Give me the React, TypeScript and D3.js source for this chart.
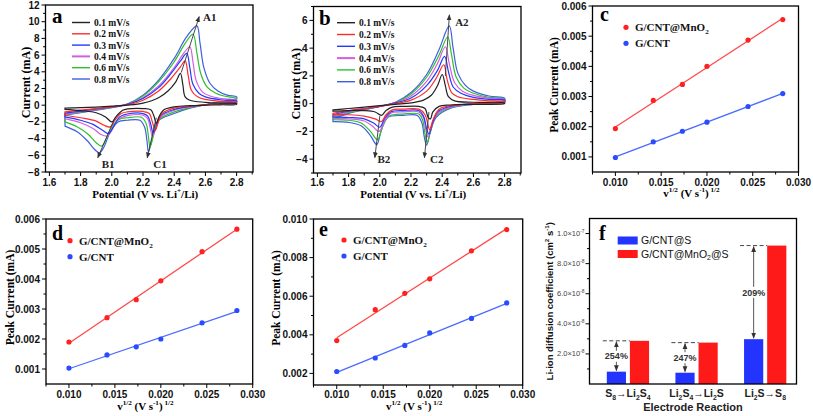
import React from 'react';
import * as d3 from 'd3';

type P = [number, number];
type Seg = [string, number];

// ---------- Panel a / b : cyclic voltammograms ----------
const scanLabels = ['0.1 mV/s', '0.2 mV/s', '0.3 mV/s', '0.4 mV/s', '0.6 mV/s', '0.8 mV/s'];
const scanColors = ['#222222', '#ff2b2b', '#1f3cff', '#d35fe0', '#2fbf2f', '#3d5fe0'];

const cvXTicks = [1.6, 1.8, 2.0, 2.2, 2.4, 2.6, 2.8];
const cvXMinor = [1.7, 1.9, 2.1, 2.3, 2.5, 2.7, 2.9];
const cvAYTicks = [-8, -6, -4, -2, 0, 2, 4, 6, 8, 10, 12];
const cvAYMinor = [-7, -5, -3, -1, 1, 3, 5, 7, 9, 11];
const cvBYTicks = [-4, -2, 0, 2, 4, 6];
const cvBYMinor = [-5, -3, -1, 1, 3, 5, 7];

const cvAUpper: P[][] = [
  [[1.7,-0.35],[1.8,-0.3],[1.9,-0.22],[2.0,-0.12],[2.1,0.0],[2.2,0.25],[2.3,0.9],[2.36,1.7],[2.41,2.8],[2.44,3.8],[2.455,2.5],[2.47,1.0],[2.5,0.6],[2.6,0.35],[2.7,0.25],[2.8,0.2]],
  [[1.7,-0.8],[1.8,-0.6],[1.9,-0.4],[2.0,-0.2],[2.1,0.05],[2.2,0.6],[2.3,1.7],[2.38,3.2],[2.44,4.6],[2.47,5.3],[2.49,3.5],[2.51,1.8],[2.55,1.0],[2.6,0.7],[2.7,0.45],[2.8,0.35]],
  [[1.7,-0.95],[1.8,-0.7],[1.9,-0.45],[2.0,-0.2],[2.1,0.1],[2.2,0.8],[2.3,2.1],[2.38,3.8],[2.44,5.3],[2.48,6.2],[2.5,4.5],[2.52,2.5],[2.56,1.4],[2.6,1.0],[2.7,0.65],[2.8,0.5]],
  [[1.7,-1.05],[1.8,-0.8],[1.9,-0.5],[2.0,-0.22],[2.1,0.12],[2.2,0.9],[2.3,2.3],[2.4,4.5],[2.46,6.2],[2.5,7.0],[2.52,5.2],[2.54,3.0],[2.58,1.6],[2.63,1.1],[2.7,0.8],[2.8,0.6]],
  [[1.7,-1.1],[1.8,-0.85],[1.9,-0.55],[2.0,-0.25],[2.1,0.15],[2.2,1.1],[2.3,2.8],[2.4,5.2],[2.47,7.4],[2.52,8.5],[2.545,6.3],[2.57,3.8],[2.61,2.2],[2.66,1.5],[2.72,1.1],[2.8,0.8]],
  [[1.7,-1.2],[1.8,-0.9],[1.9,-0.6],[2.0,-0.3],[2.1,0.15],[2.2,1.2],[2.3,3.0],[2.4,5.6],[2.48,8.2],[2.545,9.5],[2.565,7.5],[2.59,4.5],[2.63,2.6],[2.68,1.7],[2.74,1.2],[2.8,1.0]],
];
const cvALower: P[][] = [
  [[1.7,-0.5],[1.8,-0.65],[1.9,-0.9],[1.96,-1.4],[2.0,-2.0],[2.03,-1.3],[2.07,-0.6],[2.1,-0.45],[2.2,-0.4],[2.25,-0.55],[2.27,-1.3],[2.285,-2.2],[2.3,-1.5],[2.33,-0.6],[2.4,-0.2],[2.5,-0.05],[2.6,0.0],[2.7,0.05],[2.8,0.1]],
  [[1.7,-1.2],[1.8,-1.5],[1.9,-1.9],[1.95,-2.4],[1.99,-2.6],[2.02,-1.8],[2.06,-1.0],[2.1,-0.8],[2.2,-0.75],[2.24,-1.0],[2.26,-2.0],[2.278,-3.0],[2.295,-2.2],[2.32,-1.0],[2.4,-0.35],[2.5,-0.1],[2.6,0.05],[2.7,0.15],[2.8,0.25]],
  [[1.7,-1.4],[1.8,-1.8],[1.88,-2.3],[1.94,-3.0],[1.98,-3.4],[2.01,-2.6],[2.05,-1.4],[2.1,-1.05],[2.2,-1.0],[2.23,-1.3],[2.25,-2.3],[2.265,-3.3],[2.285,-2.6],[2.31,-1.3],[2.4,-0.5],[2.5,-0.15],[2.6,0.05],[2.7,0.2],[2.8,0.35]],
  [[1.7,-1.6],[1.8,-2.1],[1.88,-2.8],[1.93,-3.5],[1.97,-3.7],[2.0,-3.0],[2.04,-1.7],[2.1,-1.25],[2.2,-1.2],[2.23,-1.6],[2.245,-2.6],[2.26,-3.7],[2.28,-2.9],[2.31,-1.5],[2.4,-0.6],[2.5,-0.2],[2.6,0.05],[2.7,0.25],[2.8,0.45]],
  [[1.7,-2.0],[1.78,-2.6],[1.85,-3.5],[1.9,-4.5],[1.935,-4.9],[1.97,-3.8],[2.01,-2.3],[2.06,-1.6],[2.1,-1.5],[2.19,-1.45],[2.22,-2.2],[2.235,-3.8],[2.245,-5.0],[2.265,-3.8],[2.3,-1.8],[2.4,-0.8],[2.5,-0.3],[2.6,0.05],[2.7,0.35],[2.8,0.65]],
  [[1.7,-2.5],[1.78,-3.2],[1.84,-4.2],[1.89,-5.3],[1.92,-5.7],[1.95,-5.0],[1.99,-3.2],[2.04,-2.0],[2.1,-1.8],[2.18,-1.8],[2.21,-2.6],[2.225,-4.2],[2.235,-5.6],[2.255,-4.3],[2.29,-2.0],[2.4,-1.0],[2.5,-0.35],[2.6,0.05],[2.7,0.45],[2.8,0.8]],
];
const cvBUpper: P[][] = [
  [[1.7,-0.45],[1.8,-0.35],[1.9,-0.25],[2.0,-0.15],[2.1,-0.05],[2.2,0.05],[2.28,0.25],[2.33,0.6],[2.37,1.3],[2.40,2.1],[2.42,1.3],[2.44,0.5],[2.48,0.2],[2.6,0.1],[2.8,0.05]],
  [[1.7,-0.7],[1.8,-0.5],[1.9,-0.35],[2.0,-0.2],[2.1,0.0],[2.2,0.25],[2.3,0.9],[2.36,1.8],[2.41,2.8],[2.43,1.8],[2.46,0.8],[2.5,0.5],[2.6,0.3],[2.7,0.2],[2.8,0.15]],
  [[1.7,-0.8],[1.8,-0.55],[1.9,-0.38],[2.0,-0.2],[2.1,0.05],[2.2,0.4],[2.3,1.3],[2.37,2.4],[2.415,3.4],[2.44,2.3],[2.47,1.2],[2.52,0.75],[2.6,0.45],[2.7,0.3],[2.8,0.25]],
  [[1.7,-0.9],[1.8,-0.6],[1.9,-0.4],[2.0,-0.2],[2.1,0.08],[2.2,0.55],[2.3,1.6],[2.37,2.9],[2.42,4.1],[2.445,2.9],[2.48,1.5],[2.53,0.9],[2.6,0.6],[2.7,0.4],[2.8,0.3]],
  [[1.7,-1.0],[1.8,-0.65],[1.9,-0.42],[2.0,-0.2],[2.1,0.1],[2.2,0.7],[2.3,1.9],[2.38,3.5],[2.435,4.8],[2.46,3.5],[2.49,1.9],[2.54,1.1],[2.6,0.75],[2.7,0.45],[2.8,0.35]],
  [[1.7,-1.1],[1.8,-0.7],[1.9,-0.45],[2.0,-0.2],[2.1,0.1],[2.2,0.8],[2.3,2.1],[2.38,3.9],[2.445,5.6],[2.47,4.0],[2.5,2.2],[2.55,1.3],[2.6,0.9],[2.7,0.55],[2.8,0.4]],
];
const cvBLower: P[][] = [
  [[1.7,-0.55],[1.8,-0.5],[1.9,-0.5],[1.97,-0.6],[2.01,-0.85],[2.04,-0.5],[2.08,-0.25],[2.15,-0.2],[2.25,-0.2],[2.29,-0.35],[2.31,-1.0],[2.325,-1.1],[2.34,-0.6],[2.38,-0.2],[2.45,-0.1],[2.6,-0.05],[2.8,0.0]],
  [[1.7,-0.8],[1.8,-0.8],[1.9,-0.9],[1.97,-1.1],[2.01,-1.3],[2.04,-0.8],[2.08,-0.45],[2.15,-0.4],[2.25,-0.4],[2.29,-0.8],[2.31,-1.6],[2.32,-1.9],[2.34,-1.2],[2.38,-0.4],[2.45,-0.15],[2.6,0.0],[2.8,0.05]],
  [[1.7,-0.95],[1.8,-1.0],[1.9,-1.1],[1.96,-1.4],[2.0,-1.7],[2.03,-1.1],[2.07,-0.6],[2.15,-0.5],[2.25,-0.5],[2.28,-0.9],[2.3,-1.8],[2.315,-2.2],[2.335,-1.5],[2.37,-0.6],[2.45,-0.2],[2.6,0.0],[2.8,0.1]],
  [[1.7,-1.05],[1.8,-1.1],[1.9,-1.25],[1.95,-1.6],[1.995,-2.0],[2.03,-1.3],[2.07,-0.7],[2.15,-0.6],[2.25,-0.6],[2.28,-1.0],[2.295,-1.9],[2.31,-2.4],[2.33,-1.7],[2.37,-0.7],[2.45,-0.25],[2.6,0.0],[2.8,0.15]],
  [[1.7,-1.15],[1.8,-1.2],[1.88,-1.4],[1.94,-2.0],[1.985,-2.6],[2.02,-1.6],[2.06,-0.9],[2.15,-0.75],[2.25,-0.75],[2.275,-1.2],[2.29,-2.2],[2.305,-2.8],[2.325,-2.0],[2.36,-0.9],[2.45,-0.3],[2.6,0.0],[2.8,0.2]],
  [[1.7,-1.3],[1.8,-1.35],[1.88,-1.6],[1.94,-2.3],[1.98,-2.95],[2.01,-1.9],[2.05,-1.0],[2.15,-0.85],[2.24,-0.85],[2.27,-1.4],[2.285,-2.4],[2.30,-3.0],[2.32,-2.2],[2.36,-1.0],[2.45,-0.35],[2.6,-0.05],[2.8,0.25]],
];
const cvAArrows = [
  { from: [2.445, 3.9] as P, to: [2.56, 10.6] as P, label: 'A1', at: [2.585, 10.1] as P },
  { from: [2.02, -1.5] as P, to: [1.91, -6.3] as P, label: 'B1', at: [1.935, -7.5] as P },
  { from: [2.285, -1.5] as P, to: [2.227, -6.3] as P, label: 'C1', at: [2.266, -7.5] as P },
];
const cvBArrows = [
  { from: [2.42, 2.0] as P, to: [2.446, 6.4] as P, label: 'A2', at: [2.483, 5.6] as P },
  { from: [2.0, -0.9] as P, to: [1.968, -3.9] as P, label: 'B2', at: [1.985, -4.25] as P },
  { from: [2.315, -0.6] as P, to: [2.286, -3.9] as P, label: 'C2', at: [2.322, -4.25] as P },
];

// ---------- Panels c, d, e : peak current vs v^1/2 ----------
const sqrtRate = [0.01, 0.01414, 0.01732, 0.02, 0.02449, 0.02828];
const cRed = [0.00194, 0.00287, 0.0034, 0.0040, 0.00487, 0.00555];
const cBlue = [0.00098, 0.0015, 0.00185, 0.00215, 0.00267, 0.0031];
const dRed = [0.0019, 0.00271, 0.00331, 0.00394, 0.00491, 0.00566];
const dBlue = [0.00103, 0.00147, 0.00174, 0.002, 0.00254, 0.00295];
const eRed = [0.0037, 0.0053, 0.00615, 0.0069, 0.00835, 0.00945];
const eBlue = [0.0021, 0.0028, 0.00345, 0.0041, 0.00485, 0.00565];
const rateXTicks = [0.010, 0.015, 0.020, 0.025, 0.030];
const rateXMinor = [0.0075, 0.0125, 0.0175, 0.0225, 0.0275];
const cdYTicks = [0.001, 0.002, 0.003, 0.004, 0.005, 0.006];
const cdYMinor = [0.0015, 0.0025, 0.0035, 0.0045, 0.0055];
const eYTicks = [0.002, 0.004, 0.006, 0.008, 0.010];
const eYMinor = [0.003, 0.005, 0.007, 0.009];
const seriesNames: Seg[][] = [[['G/CNT@MnO', 0], ['2', 1]], [['G/CNT', 0]]];

// ---------- Panel f : diffusion coefficients ----------
const reactions = ['S8-Li2S4', 'Li2S4-Li2S', 'Li2S-S8'];
const reactionLabels: Seg[][] = [
  [['S', 0], ['8', 1], ['\u2192Li', 0], ['2', 1], ['S', 0], ['4', 1]],
  [['Li', 0], ['2', 1], ['S', 0], ['4', 1], ['\u2192Li', 0], ['2', 1], ['S', 0]],
  [['Li', 0], ['2', 1], ['S\u2192S', 0], ['8', 1]],
];
const fBlue = [0.82e-8, 0.75e-8, 2.98e-8];
const fRed = [2.87e-8, 2.75e-8, 9.2e-8];
const fPct = ['254%', '247%', '209%'];
const fYTicks = [2e-8, 4e-8, 6e-8, 8e-8, 1e-7];
const fYMinor = [1e-8, 3e-8, 5e-8, 7e-8, 9e-8];
const fSeries: Seg[][] = [[['G/CNT@S', 0]], [['G/CNT@MnO', 0], ['2', 1], ['@S', 0]]];

const serif = "'Liberation Serif','Times New Roman',serif";
const sans = "'Liberation Sans',Arial,sans-serif";

function Rich({ segs, fontSize, ...rest }: any) {
  let cur = 0;
  return (
    <text fontSize={fontSize} {...rest}>
      {segs.map(([s, k]: Seg, i: number) => {
        const target = k === 1 ? fontSize * 0.28 : k === -1 ? -fontSize * 0.42 : 0;
        const dy = target - cur;
        cur = target;
        return (
          <tspan key={i} dy={dy} fontSize={k ? fontSize * 0.65 : fontSize}>
            {s}
          </tspan>
        );
      })}
    </text>
  );
}

function Axes({ x, y, xTicks, xMinor, yTicks, yMinor, xFmt, yFmt, xLabelY, fs = 10 }: any) {
  const [x0, x1] = x.range();
  const [yb, yt] = y.range();
  return (
    <g>
      <rect x={x0} y={yt} width={x1 - x0} height={yb - yt} fill="none" stroke="#000" strokeWidth={1.3} />
      {xTicks.map((t: number) => (
        <line key={'xt' + t} x1={x(t)} x2={x(t)} y1={yb} y2={yb + 4} stroke="#000" strokeWidth={1} />
      ))}
      {xMinor.map((t: number) => (
        <line key={'xm' + t} x1={x(t)} x2={x(t)} y1={yb} y2={yb + 2.5} stroke="#000" strokeWidth={1} />
      ))}
      {xTicks.map((t: number) => (
        <text key={'xl' + t} x={x(t)} y={xLabelY} textAnchor="middle" fontFamily={sans} fontWeight="bold" fontSize={fs} fill="#111">
          {xFmt(t)}
        </text>
      ))}
      {yTicks.map((t: number) => (
        <line key={'yt' + t} x1={x0 - 4} x2={x0} y1={y(t)} y2={y(t)} stroke="#000" strokeWidth={1} />
      ))}
      {yMinor.map((t: number) => (
        <line key={'ym' + t} x1={x0 - 2.5} x2={x0} y1={y(t)} y2={y(t)} stroke="#000" strokeWidth={1} />
      ))}
      {yTicks.map((t: number) => (
        <text key={'yl' + t} x={x0 - 6} y={y(t)} dy="0.35em" textAnchor="end" fontFamily={sans} fontWeight="bold" fontSize={fs} fill="#111">
          {yFmt(t)}
        </text>
      ))}
    </g>
  );
}

function CVPanel({ upper, lower, xRange, yDomain, yRange, yTicks, yMinor, letter, letterPos, legendX, legendY, legendDy, arrows, titleX, labelY }: any) {
  const x = d3.scaleLinear().domain([1.575, 2.905]).range(xRange);
  const y = d3.scaleLinear().domain(yDomain).range(yRange);
  const line = d3
    .line<P>()
    .x((d) => x(d[0]))
    .y((d) => y(d[1]))
    .curve(d3.curveCatmullRom.alpha(0.5));
  const order = d3.range(upper.length).reverse();
  const cx = (xRange[0] + xRange[1]) / 2;
  return (
    <g>
      {order.map((i) => (
        <path
          key={i}
          d={(line([...upper[i], ...lower[i].slice().reverse()]) as string) + 'Z'}
          fill="none"
          stroke={scanColors[i]}
          strokeWidth={1.2}
        />
      ))}
      {arrows.map((a: any) => (
        <g key={a.label}>
          <line x1={x(a.from[0])} y1={y(a.from[1])} x2={x(a.to[0])} y2={y(a.to[1])} stroke="#333" strokeWidth={0.9} markerEnd="url(#arrowHead)" />
          <text x={x(a.at[0])} y={y(a.at[1])} fontFamily={serif} fontWeight="bold" fontSize={11} fill="#222">
            {a.label}
          </text>
        </g>
      ))}
      <Axes x={x} y={y} xTicks={cvXTicks} xMinor={cvXMinor} yTicks={yTicks} yMinor={yMinor} xFmt={d3.format('.1f')} yFmt={d3.format('d')} xLabelY={186} />
      {scanLabels.map((s, i) => (
        <g key={s}>
          <line x1={legendX} x2={legendX + 18} y1={legendY + i * legendDy} y2={legendY + i * legendDy} stroke={scanColors[i]} strokeWidth={i === 3 ? 2 : 1.4} />
          <text x={legendX + 22} y={legendY + i * legendDy + 3.5} fontFamily={serif} fontWeight="bold" fontSize={9.5} fill="#111">
            {s}
          </text>
        </g>
      ))}
      <text x={letterPos[0]} y={letterPos[1]} fontFamily={serif} fontWeight="bold" fontSize={21}>
        {letter}
      </text>
      <text transform={`translate(${titleX},${(yRange[0] + yRange[1]) / 2 - 6}) rotate(-90)`} textAnchor="middle" fontFamily={serif} fontWeight="bold" fontSize={12}>
        Current (mA)
      </text>
      <Rich segs={[['Potential (V vs. Li', 0], ['+', -1], ['/Li)', 0]]} x={cx - 4} y={labelY} textAnchor="middle" fontFamily={serif} fontWeight="bold" fontSize={11} />
    </g>
  );
}

function fit(xs: number[], ys: number[]) {
  const mx = d3.mean(xs) as number;
  const my = d3.mean(ys) as number;
  const b = d3.sum(xs.map((v, i) => (v - mx) * (ys[i] - my))) / d3.sum(xs.map((v) => (v - mx) ** 2));
  return (v: number) => my + b * (v - mx);
}

const redCol = '#ff2020';
const blueCol = '#2a4bff';

function RatePanel({ red, blue, xRange, yDomain, yRange, yTicks, yMinor, letter, letterPos, legend, titleX, tickLabelY, titleY }: any) {
  const x = d3.scaleLinear().domain([0.0075, 0.030]).range(xRange);
  const y = d3.scaleLinear().domain(yDomain).range(yRange);
  const series = [
    { vals: red, col: redCol, lineCol: '#ff4a4a' },
    { vals: blue, col: blueCol, lineCol: '#4a6bff' },
  ];
  const x0 = sqrtRate[0];
  const x1 = sqrtRate[sqrtRate.length - 1];
  return (
    <g>
      {series.map((s, si) => {
        const f = fit(sqrtRate, s.vals);
        return (
          <g key={si}>
            <line x1={x(x0)} y1={y(f(x0))} x2={x(x1)} y2={y(f(x1))} stroke={s.lineCol} strokeWidth={1.3} />
            {s.vals.map((v: number, i: number) => (
              <circle key={i} cx={x(sqrtRate[i])} cy={y(v)} r={2.6} fill={s.col} />
            ))}
          </g>
        );
      })}
      <Axes x={x} y={y} xTicks={rateXTicks} xMinor={rateXMinor} yTicks={yTicks} yMinor={yMinor} xFmt={d3.format('.3f')} yFmt={d3.format('.3f')} xLabelY={tickLabelY} />
      {seriesNames.map((segs, i) => (
        <g key={i}>
          <circle cx={legend[0]} cy={legend[1] + i * 16} r={2.6} fill={i === 0 ? redCol : blueCol} />
          <Rich segs={segs} x={legend[0] + 9} y={legend[1] + i * 16 + 4} fontFamily={serif} fontWeight="bold" fontSize={11} fill="#111" />
        </g>
      ))}
      <text x={letterPos[0]} y={letterPos[1]} fontFamily={serif} fontWeight="bold" fontSize={20}>
        {letter}
      </text>
      <text transform={`translate(${titleX},${(yRange[0] + yRange[1]) / 2 - 4}) rotate(-90)`} textAnchor="middle" fontFamily={serif} fontWeight="bold" fontSize={11.5}>
        Peak Current (mA)
      </text>
      <Rich
        segs={[['v', 0], ['1/2', -1], [' (V s', 0], ['-1', -1], [')', 0], [' 1/2', -1]]}
        x={(xRange[0] + xRange[1]) / 2 - 4}
        y={titleY}
        textAnchor="middle"
        fontFamily={serif}
        fontWeight="bold"
        fontSize={11}
      />
    </g>
  );
}

function DiffPanel() {
  const fr = { l: 589.5, r: 796.5, t: 218.5, b: 384 };
  const x = d3.scaleBand<string>().domain(reactions).range([fr.l, fr.r]).paddingInner(0.384).paddingOuter(0.2).align(0.63);
  const sub = d3.scaleBand<string>().domain(['blue', 'red']).range([0, x.bandwidth()]).paddingInner(0.17);
  const y = d3.scaleLinear().domain([0, 1.1e-7]).range([fr.b, fr.t]);
  const tickLabel = (v: number): Seg[] => {
    const e = Math.floor(Math.log10(v) + 1e-9);
    const m = v / Math.pow(10, e);
    return [[m.toFixed(1) + '\u00d710', 0], [String(e), -1]];
  };
  return (
    <g>
      {reactions.map((r, i) => {
        const bx = (x(r) as number) + (sub('blue') as number);
        const rx = (x(r) as number) + (sub('red') as number);
        const bw = sub.bandwidth();
        const ax = bx + bw / 2;
        const yB = y(fBlue[i]);
        const yR = y(fRed[i]);
        const my = (yB + yR) / 2;
        return (
          <g key={r}>
            <rect x={bx} y={yB} width={bw} height={fr.b - yB} fill="#2434ff" />
            <rect x={rx} y={yR} width={bw} height={fr.b - yR} fill="#ff1a1a" />
            <line x1={bx - 4} x2={rx} y1={yR} y2={yR} stroke="#444" strokeWidth={1} strokeDasharray="4,2.5" />
            <line x1={ax} x2={ax} y1={yB - 1} y2={yR + 1} stroke="#444" strokeWidth={0.9} markerStart="url(#arrowHead)" markerEnd="url(#arrowHead)" />
            <rect x={ax - 12} y={my - 5.5} width={24} height={11} fill="#fff" />
            <text x={ax} y={my} dy="0.35em" textAnchor="middle" fontFamily={sans} fontWeight="bold" fontSize={9} fill="#333">
              {fPct[i]}
            </text>
            <Rich segs={reactionLabels[i]} x={(x(r) as number) + x.bandwidth() / 2} y={397} textAnchor="middle" fontFamily={sans} fontWeight="bold" fontSize={10.5} fill="#222" />
          </g>
        );
      })}
      <rect x={fr.l} y={fr.t} width={fr.r - fr.l} height={fr.b - fr.t} fill="none" stroke="#000" strokeWidth={1.3} />
      {fYTicks.map((t) => (
        <g key={t}>
          <line x1={fr.l - 4} x2={fr.l} y1={y(t)} y2={y(t)} stroke="#000" />
          <Rich segs={tickLabel(t)} x={fr.l - 5} y={y(t) + 2.5} textAnchor="end" fontFamily={sans} fontSize={7.5} fill="#444" />
        </g>
      ))}
      {fYMinor.map((t) => (
        <line key={t} x1={fr.l - 2.5} x2={fr.l} y1={y(t)} y2={y(t)} stroke="#000" />
      ))}
      {fSeries.map((segs, i) => (
        <g key={i}>
          <rect x={617.7} y={236.5 + i * 13.5} width={20} height={8} fill={i === 0 ? '#2434ff' : '#ff1a1a'} />
          <Rich segs={segs} x={641} y={244 + i * 13.5} fontFamily={sans} fontSize={10.5} fill="#111" />
        </g>
      ))}
      <text x={599} y={240} fontFamily={serif} fontWeight="bold" fontSize={20}>
        f
      </text>
      <Rich
        segs={[['Li-ion diffusion coefficient (cm', 0], ['2', -1], [' s', 0], ['-1', -1], [')', 0]]}
        transform={`translate(553,${(fr.t + fr.b) / 2}) rotate(-90)`}
        textAnchor="middle"
        fontFamily={sans}
        fontWeight="bold"
        fontSize={9.5}
        fill="#111"
      />
      <text x={(fr.l + fr.r) / 2} y={411} textAnchor="middle" fontFamily={sans} fontWeight="bold" fontSize={11} fill="#222">
        Electrode Reaction
      </text>
    </g>
  );
}

export default function App() {
  return (
    <svg width={813} height={416} style={{ position: 'absolute', left: 0, top: 0, background: '#fff' }}>
      <defs>
        <marker id="arrowHead" viewBox="0 0 10 10" refX="9" refY="5" markerWidth="6" markerHeight="6" markerUnits="userSpaceOnUse" orient="auto-start-reverse">
          <path d="M0,1 L10,5 L0,9 z" fill="#333" />
        </marker>
      </defs>
      <rect x={0} y={0} width={813} height={416} fill="#fff" />
      <CVPanel
        upper={cvAUpper}
        lower={cvALower}
        xRange={[45.5, 253]}
        yDomain={[-8, 12]}
        yRange={[172, 5]}
        yTicks={cvAYTicks}
        yMinor={cvAYMinor}
        letter="a"
        letterPos={[52, 23]}
        legendX={72}
        legendY={22.5}
        legendDy={11.3}
        arrows={cvAArrows}
        titleX={30}
        labelY={198}
      />
      <CVPanel
        upper={cvBUpper}
        lower={cvBLower}
        xRange={[313.5, 521]}
        yDomain={[-5, 7]}
        yRange={[173, 6.5]}
        yTicks={cvBYTicks}
        yMinor={cvBYMinor}
        letter="b"
        letterPos={[319, 25]}
        legendX={337}
        legendY={22.7}
        legendDy={11.8}
        arrows={cvBArrows}
        titleX={300}
        labelY={198}
      />
      <RatePanel red={cRed} blue={cBlue} xRange={[592.5, 798.5]} yDomain={[0.0005, 0.006]} yRange={[172, 6]} yTicks={cdYTicks} yMinor={cdYMinor} letter="c" letterPos={[600, 21]} legend={[626, 27.3]} titleX={558} tickLabelY={186} titleY={197} />
      <RatePanel red={dRed} blue={dBlue} xRange={[46, 252.7]} yDomain={[0.0005, 0.006]} yRange={[384, 219]} yTicks={cdYTicks} yMinor={cdYMinor} letter="d" letterPos={[52, 240]} legend={[70, 240.7]} titleX={14} tickLabelY={398} titleY={410} />
      <RatePanel red={eRed} blue={eBlue} xRange={[313.5, 522.7]} yDomain={[0.0014, 0.010]} yRange={[385, 219]} yTicks={eYTicks} yMinor={eYMinor} letter="e" letterPos={[319, 236]} legend={[344, 240]} titleX={280} tickLabelY={398} titleY={410} />
      <DiffPanel />
    </svg>
  );
}
